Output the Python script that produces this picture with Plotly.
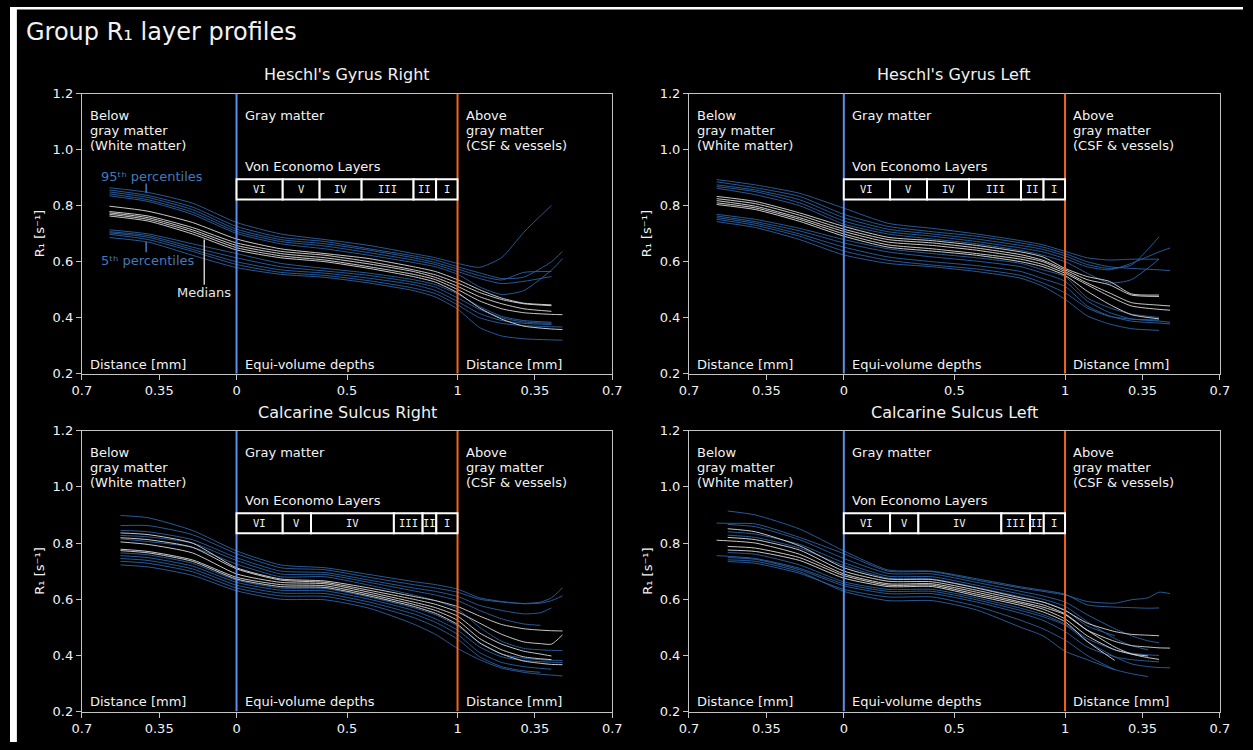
import plotly.graph_objects as go

# ---------------------------------------------------------------------------
# Sampling positions along the cortical profile.
# Negative: distance below the white-matter boundary [mm]
# 0..1   : equi-volume depth inside gray matter
# >1     : 1 + distance above the pial surface [mm]
# ---------------------------------------------------------------------------
X_HG = [-0.575, -0.4, -0.2, 0.0, 0.2, 0.4, 0.6, 0.8, 0.9, 1.0, 1.1, 1.2, 1.3, 1.425, 1.475]
X_CSR = [-0.525, -0.4, -0.2, 0.0, 0.2, 0.4, 0.6, 0.8, 0.9, 1.0, 1.1, 1.2, 1.3, 1.375, 1.425, 1.475]
X_CSL = [-0.575, -0.525, -0.4, -0.2, 0.0, 0.2, 0.4, 0.6, 0.8, 0.9, 1.0, 1.1, 1.225, 1.3, 1.375, 1.425, 1.475]

# Heschl's Gyrus Right (one row per subject)
HGR_P95 = [
    [0.864, 0.847, 0.809, 0.740, 0.699, 0.679, 0.658, 0.629, 0.614, 0.594, 0.580, 0.615, 0.705, 0.801, None],
    [0.856, 0.836, 0.795, 0.726, 0.687, 0.672, 0.646, 0.621, 0.606, 0.582, 0.560, 0.540, 0.545, 0.600, 0.637],
    [0.849, 0.829, 0.786, 0.716, 0.679, 0.664, 0.641, 0.614, 0.597, 0.574, 0.550, 0.535, 0.562, 0.565, None],
    [0.842, 0.821, 0.777, 0.708, 0.672, 0.656, 0.632, 0.606, 0.590, 0.565, 0.540, 0.522, 0.530, 0.547, None],
    [0.835, 0.815, 0.769, 0.701, 0.664, 0.646, 0.623, 0.597, 0.582, 0.555, 0.510, 0.483, 0.497, 0.570, 0.611],
]
HGR_MED = [
    [0.798, 0.780, 0.740, 0.681, 0.646, 0.629, 0.611, 0.582, 0.565, 0.536, 0.500, 0.470, 0.452, 0.446, None],
    [0.779, 0.763, 0.722, 0.667, 0.637, 0.623, 0.600, 0.571, 0.553, 0.524, 0.490, 0.465, 0.450, 0.443, None],
    [0.774, 0.757, 0.714, 0.658, 0.629, 0.614, 0.592, 0.565, 0.544, 0.512, 0.475, 0.450, 0.432, 0.423, None],
    [0.769, 0.751, 0.707, 0.650, 0.621, 0.606, 0.582, 0.555, 0.536, 0.501, 0.460, 0.432, 0.418, 0.412, 0.411],
    [0.763, 0.745, 0.699, 0.642, 0.614, 0.600, 0.576, 0.547, 0.527, 0.489, 0.435, 0.395, 0.370, 0.360, 0.358],
]
HGR_P05 = [
    [0.714, 0.699, 0.664, 0.629, 0.594, 0.576, 0.559, 0.536, 0.518, 0.485, 0.440, 0.405, 0.390, 0.384, None],
    [0.707, 0.693, 0.652, 0.614, 0.582, 0.567, 0.551, 0.527, 0.509, 0.471, 0.430, 0.400, 0.385, 0.380, None],
    [0.703, 0.687, 0.644, 0.600, 0.571, 0.559, 0.541, 0.518, 0.497, 0.458, 0.415, 0.390, 0.380, 0.376, None],
    [0.698, 0.679, 0.637, 0.590, 0.562, 0.551, 0.532, 0.506, 0.486, 0.446, 0.400, 0.380, 0.372, 0.368, 0.367],
    [0.686, 0.670, 0.623, 0.579, 0.555, 0.544, 0.524, 0.497, 0.474, 0.431, 0.365, 0.335, 0.325, 0.321, 0.320],
]

# Heschl's Gyrus Left
HGL_P95 = [
    [0.893, 0.874, 0.844, 0.791, 0.737, 0.719, 0.699, 0.675, 0.660, 0.637, 0.614, 0.606, 0.609, 0.609, None],
    [0.885, 0.864, 0.833, 0.769, 0.726, 0.707, 0.691, 0.667, 0.652, 0.629, 0.600, 0.582, 0.576, 0.571, 0.568],
    [0.874, 0.856, 0.821, 0.757, 0.716, 0.699, 0.681, 0.658, 0.644, 0.621, 0.590, 0.576, 0.588, 0.689, None],
    [0.868, 0.850, 0.810, 0.745, 0.707, 0.691, 0.672, 0.649, 0.635, 0.611, 0.582, 0.571, 0.594, 0.635, 0.649],
    [0.862, 0.839, 0.800, 0.734, 0.699, 0.681, 0.664, 0.640, 0.623, 0.600, 0.559, 0.524, 0.536, 0.609, None],
]
HGL_MED = [
    [0.833, 0.815, 0.774, 0.726, 0.687, 0.675, 0.658, 0.635, 0.617, 0.576, 0.547, 0.530, 0.485, 0.481, None],
    [0.825, 0.807, 0.766, 0.716, 0.679, 0.667, 0.649, 0.625, 0.605, 0.571, 0.536, 0.518, 0.481, 0.476, None],
    [0.818, 0.798, 0.757, 0.708, 0.670, 0.658, 0.641, 0.617, 0.600, 0.565, 0.524, 0.489, 0.454, 0.445, 0.442],
    [0.810, 0.792, 0.751, 0.699, 0.660, 0.646, 0.629, 0.609, 0.590, 0.559, 0.518, 0.477, 0.442, 0.430, 0.427],
    [0.804, 0.786, 0.744, 0.691, 0.652, 0.638, 0.623, 0.600, 0.582, 0.551, 0.495, 0.448, 0.411, 0.396, None],
]
HGL_P05 = [
    [0.769, 0.751, 0.719, 0.679, 0.646, 0.629, 0.614, 0.594, 0.571, 0.547, 0.471, 0.436, 0.413, 0.401, None],
    [0.763, 0.743, 0.710, 0.667, 0.635, 0.617, 0.602, 0.582, 0.559, 0.530, 0.460, 0.419, 0.396, 0.388, 0.384],
    [0.757, 0.737, 0.699, 0.652, 0.617, 0.600, 0.586, 0.565, 0.539, 0.512, 0.442, 0.407, 0.388, 0.381, 0.378],
    [0.751, 0.730, 0.691, 0.638, 0.605, 0.588, 0.574, 0.551, 0.524, 0.489, 0.435, 0.405, 0.395, 0.392, None],
    [0.743, 0.722, 0.679, 0.624, 0.594, 0.582, 0.565, 0.541, 0.512, 0.466, 0.407, 0.378, 0.361, 0.355, None],
]

# Calcarine Sulcus Right
CSR_P95 = [
    [0.898, 0.890, 0.845, 0.772, 0.722, 0.712, 0.688, 0.663, 0.652, 0.636, 0.605, 0.592, 0.585, 0.590, 0.605, 0.641],
    [0.862, 0.862, 0.830, 0.762, 0.712, 0.705, 0.678, 0.652, 0.640, 0.625, 0.600, 0.590, 0.584, 0.586, 0.595, 0.612],
    [0.845, 0.840, 0.812, 0.748, 0.700, 0.695, 0.668, 0.640, 0.628, 0.610, 0.578, 0.560, 0.548, 0.552, 0.569, None],
    [0.827, 0.822, 0.800, 0.738, 0.690, 0.688, 0.660, 0.630, 0.615, 0.595, 0.560, 0.530, 0.512, 0.507, None, None],
    [0.815, 0.805, 0.785, 0.725, 0.680, 0.680, 0.650, 0.615, 0.595, 0.565, 0.500, 0.450, 0.425, 0.420, 0.418, 0.417],
]
CSR_MED = [
    [0.836, 0.830, 0.800, 0.712, 0.672, 0.665, 0.640, 0.610, 0.595, 0.574, 0.540, 0.510, 0.495, 0.490, 0.488, 0.487],
    [0.819, 0.812, 0.785, 0.708, 0.668, 0.660, 0.632, 0.600, 0.582, 0.555, 0.515, 0.475, 0.448, 0.442, 0.440, 0.473],
    [0.804, 0.795, 0.765, 0.690, 0.660, 0.655, 0.625, 0.590, 0.570, 0.540, 0.480, 0.440, 0.415, 0.405, 0.398, None],
    [0.778, 0.770, 0.740, 0.678, 0.652, 0.648, 0.618, 0.582, 0.560, 0.525, 0.460, 0.420, 0.395, 0.388, 0.385, None],
    [0.773, 0.765, 0.735, 0.672, 0.645, 0.642, 0.612, 0.575, 0.550, 0.510, 0.445, 0.405, 0.380, 0.372, 0.368, 0.367],
]
CSR_P05 = [
    [0.765, 0.758, 0.728, 0.668, 0.640, 0.638, 0.608, 0.570, 0.545, 0.505, 0.445, 0.405, 0.390, 0.385, 0.383, 0.382],
    [0.755, 0.748, 0.718, 0.660, 0.632, 0.630, 0.600, 0.560, 0.530, 0.490, 0.430, 0.395, 0.382, 0.378, 0.376, 0.375],
    [0.745, 0.738, 0.708, 0.650, 0.622, 0.620, 0.590, 0.548, 0.518, 0.475, 0.410, 0.375, 0.360, 0.354, 0.351, None],
    [0.735, 0.728, 0.698, 0.640, 0.612, 0.610, 0.580, 0.535, 0.502, 0.458, 0.395, 0.360, 0.345, 0.340, None, None],
    [0.722, 0.715, 0.685, 0.630, 0.600, 0.598, 0.568, 0.512, 0.475, 0.425, 0.385, 0.355, 0.340, 0.333, 0.330, 0.327],
]

# Calcarine Sulcus Left
CSL_P95 = [
    [0.871, 0.870, 0.868, 0.820, 0.762, 0.700, 0.698, 0.668, 0.640, 0.628, 0.615, 0.592, 0.586, 0.598, 0.605, 0.625, 0.620],
    [None, 0.914, 0.900, 0.850, 0.772, 0.704, 0.700, 0.673, 0.644, 0.632, 0.618, 0.580, 0.572, 0.570, 0.568, 0.569, None],
    [None, 0.866, 0.858, 0.812, 0.745, 0.692, 0.690, 0.660, 0.628, 0.612, 0.590, 0.545, 0.495, 0.470, 0.452, 0.445, None],
    [None, 0.840, 0.832, 0.795, 0.730, 0.682, 0.680, 0.650, 0.618, 0.600, 0.575, 0.520, 0.460, 0.435, 0.420, None, None],
    [None, 0.828, 0.820, 0.782, 0.720, 0.675, 0.672, 0.642, 0.608, 0.590, 0.562, 0.505, 0.470, None, None, None, None],
]
CSL_MED = [
    [0.810, 0.808, 0.800, 0.760, 0.690, 0.655, 0.655, 0.625, 0.590, 0.572, 0.545, 0.490, 0.450, 0.435, 0.430, 0.427, 0.426],
    [None, 0.851, 0.840, 0.790, 0.712, 0.672, 0.670, 0.640, 0.605, 0.590, 0.560, 0.515, 0.485, 0.475, 0.472, 0.470, None],
    [None, 0.820, 0.812, 0.775, 0.700, 0.664, 0.662, 0.632, 0.598, 0.580, 0.548, 0.490, 0.430, 0.405, 0.392, 0.386, None],
    [None, 0.788, 0.782, 0.748, 0.684, 0.650, 0.650, 0.618, 0.585, 0.565, 0.530, 0.470, 0.420, 0.405, 0.398, None, None],
    [None, 0.775, 0.770, 0.738, 0.675, 0.645, 0.645, 0.612, 0.578, 0.555, 0.520, 0.450, 0.382, None, None, None, None],
]
CSL_P05 = [
    [0.755, 0.753, 0.745, 0.710, 0.655, 0.628, 0.628, 0.598, 0.560, 0.538, 0.508, 0.450, 0.395, 0.370, 0.360, 0.357, 0.356],
    [None, 0.766, 0.760, 0.722, 0.662, 0.635, 0.635, 0.605, 0.568, 0.545, 0.512, 0.460, 0.420, 0.408, 0.402, 0.400, None],
    [None, 0.748, 0.742, 0.705, 0.648, 0.620, 0.620, 0.590, 0.550, 0.525, 0.485, 0.430, 0.395, 0.385, 0.380, 0.377, None],
    [None, 0.734, 0.728, 0.692, 0.635, 0.608, 0.608, 0.575, 0.525, 0.495, 0.455, 0.400, 0.350, 0.335, 0.325, None, None],
    [None, 0.740, 0.735, 0.698, 0.628, 0.595, 0.595, 0.562, 0.500, 0.470, 0.415, 0.385, 0.348, None, None, None, None],
]

# Von Economo layer boundaries (equi-volume depth)
LAYER_NAMES = ["VI", "V", "IV", "III", "II", "I"]
LAYERS_HG = [0.0, 0.209, 0.376, 0.566, 0.801, 0.903, 1.0]
LAYERS_CS = [0.0, 0.209, 0.337, 0.712, 0.842, 0.904, 1.0]

PANEL_TITLES = ["Heschl's Gyrus Right", "Heschl's Gyrus Left",
                "Calcarine Sulcus Right", "Calcarine Sulcus Left"]

X_TICKVALS = [-0.7, -0.35, 0.0, 0.5, 1.0, 1.35, 1.7]
X_TICKTEXT = ["0.7", "0.35", "0", "0.5", "1", "0.35", "0.7"]
Y_TICKVALS = [0.2, 0.4, 0.6, 0.8, 1.0, 1.2]

# ---------------------------------------------------------------------------
W, H = 1253, 750
FONT = "DejaVu Sans"
MONO = "DejaVu Sans Mono"
BLUE_LINE = "#2d63a8"
BLUE_TEXT = "#4479bd"
WHITE_LINE = "#dcdcdc"
SPINE = "#c4c4c4"
TEXT = "#f2f2f2"
WM_BOUNDARY = "#5b8ee6"
PIAL_BOUNDARY = "#f0651e"

X_DOMAINS = [[73 / W, 612 / W], [690 / W, 1229.5 / W]]
Y_DOMAINS = [[(H - 374.3) / H, (H - 88.3) / H], [(H - 719) / H, (H - 432.3) / H]]

panels = [
    dict(x=X_HG, p95=HGR_P95, med=HGR_MED, p05=HGR_P05, layers=LAYERS_HG, col=0, row=0,
         box=(0.822, 0.894)),
    dict(x=X_HG, p95=HGL_P95, med=HGL_MED, p05=HGL_P05, layers=LAYERS_HG, col=1, row=0,
         box=(0.822, 0.894)),
    dict(x=X_CSR, p95=CSR_P95, med=CSR_MED, p05=CSR_P05, layers=LAYERS_CS, col=0, row=1,
         box=(0.835, 0.906)),
    dict(x=X_CSL, p95=CSL_P95, med=CSL_MED, p05=CSL_P05, layers=LAYERS_CS, col=1, row=1,
         box=(0.835, 0.906)),
]

fig = go.Figure()
shapes = []
annotations = []


def txt(text, x, y, xref, yref, size=13, color=TEXT, xanchor="left", yanchor="middle",
        family=FONT, **kw):
    annotations.append(dict(text=text, x=x, y=y, xref=xref, yref=yref, showarrow=False,
                            xanchor=xanchor, yanchor=yanchor,
                            font=dict(family=family, size=size, color=color), **kw))


layout_axes = {}
for i, p in enumerate(panels):
    n = i + 1
    xa = "x" if n == 1 else f"x{n}"
    ya = "y" if n == 1 else f"y{n}"
    xkey = "xaxis" if n == 1 else f"xaxis{n}"
    ykey = "yaxis" if n == 1 else f"yaxis{n}"

    axis_common = dict(showgrid=False, zeroline=False, showline=True, linecolor=SPINE,
                       linewidth=1, mirror=True, ticks="outside", ticklen=5, tickwidth=1,
                       tickcolor=SPINE, tickfont=dict(family=FONT, size=13, color=TEXT))
    layout_axes[xkey] = dict(axis_common, domain=X_DOMAINS[p["col"]], anchor=ya,
                             range=[-0.7, 1.7], tickvals=X_TICKVALS, ticktext=X_TICKTEXT)
    layout_axes[ykey] = dict(axis_common, domain=Y_DOMAINS[p["row"]], anchor=xa,
                             range=[0.2, 1.2], tickvals=Y_TICKVALS, tickformat=".1f")

    # profile lines: percentiles first, medians on top
    for group, color in ((p["p05"], BLUE_LINE), (p["p95"], BLUE_LINE), (p["med"], WHITE_LINE)):
        for ys in group:
            fig.add_trace(go.Scatter(x=p["x"], y=ys, xaxis=xa, yaxis=ya, mode="lines",
                                     line=dict(color=color, width=0.9, shape="spline",
                                               smoothing=0.6),
                                     hoverinfo="skip", showlegend=False))

    # boundaries of gray matter
    shapes.append(dict(type="line", xref=xa, yref=ya, x0=0, x1=0, y0=0.2, y1=1.2,
                       line=dict(color=WM_BOUNDARY, width=2)))
    shapes.append(dict(type="line", xref=xa, yref=ya, x0=1, x1=1, y0=0.2, y1=1.2,
                       line=dict(color=PIAL_BOUNDARY, width=2)))

    # Von Economo layer boxes
    b0, b1 = p["box"]
    L = p["layers"]
    for k, name in enumerate(LAYER_NAMES):
        shapes.append(dict(type="rect", xref=xa, yref=ya, x0=L[k], x1=L[k + 1], y0=b0, y1=b1,
                           line=dict(color="white", width=2), fillcolor="black"))
        txt(name, (L[k] + L[k + 1]) / 2, (b0 + b1) / 2, xa, ya, size=10.5,
            family=MONO, xanchor="center")
    txt("Von Economo Layers", 0.027, b1 + 0.044, xa, ya)

    # region labels
    for j, line in enumerate(["Below", "gray matter", "(White matter)"]):
        txt(line, -0.673, 1.122 - 0.0535 * j, xa, ya)
    txt("Gray matter", 0.027, 1.122, xa, ya)
    for j, line in enumerate(["Above", "gray matter", "(CSF &amp; vessels)"]):
        txt(line, 1.028, 1.122 - 0.0535 * j, xa, ya)
    txt("Distance [mm]", -0.673, 0.235, xa, ya)
    txt("Equi-volume depths", 0.027, 0.235, xa, ya)
    txt("Distance [mm]", 1.028, 0.235, xa, ya)

    # panel title and y-axis label
    xd = X_DOMAINS[p["col"]]
    yd = Y_DOMAINS[p["row"]]
    txt(PANEL_TITLES[i], (xd[0] + xd[1]) / 2, yd[1] + 19 / H, "paper", "paper", size=16,
        xanchor="center")
    txt("R\u2081 [s\u207b\u00b9]", xd[0] - 43 / W, (yd[0] + yd[1]) / 2,
        "paper", "paper", size=13, xanchor="center", textangle=-90)

# call-outs in the first panel
txt("95\u1d57\u02b0 percentiles", -0.624, 0.903, "x", "y", color=BLUE_TEXT)
txt("5\u1d57\u02b0 percentiles", -0.624, 0.606, "x", "y", color=BLUE_TEXT)
txt("Medians", -0.146, 0.491, "x", "y", color="#e6e6e6", xanchor="center")
shapes.append(dict(type="line", xref="x", yref="y", x0=-0.409, x1=-0.409, y0=0.879, y1=0.846,
                   line=dict(color=BLUE_TEXT, width=1.5)))
shapes.append(dict(type="line", xref="x", yref="y", x0=-0.409, x1=-0.409, y0=0.670, y1=0.634,
                   line=dict(color=BLUE_TEXT, width=1.5)))
shapes.append(dict(type="line", xref="x", yref="y", x0=-0.146, x1=-0.146, y0=0.679, y1=0.518,
                   line=dict(color="#c8c8c8", width=1.5)))

# figure title
txt("Group R\u2081 layer profiles", 14 / W, 1 - 25.5 / H, "paper", "paper", size=24)

# light frame along the top and left edges of the canvas
shapes.append(dict(type="rect", xref="paper", yref="paper", x0=0, x1=7 / W, y0=0, y1=1,
                   line=dict(width=0), fillcolor="white", layer="above"))
shapes.append(dict(type="rect", xref="paper", yref="paper", x0=0, x1=1, y0=1 - 2.5 / H, y1=1,
                   line=dict(width=0), fillcolor="white", layer="above"))

fig.update_layout(
    width=W, height=H,
    margin=dict(l=0, r=0, t=0, b=0),
    paper_bgcolor="black", plot_bgcolor="black",
    font=dict(family=FONT, color=TEXT),
    showlegend=False,
    shapes=shapes,
    annotations=annotations,
    **layout_axes,
)

fig.write_html("out.html")
